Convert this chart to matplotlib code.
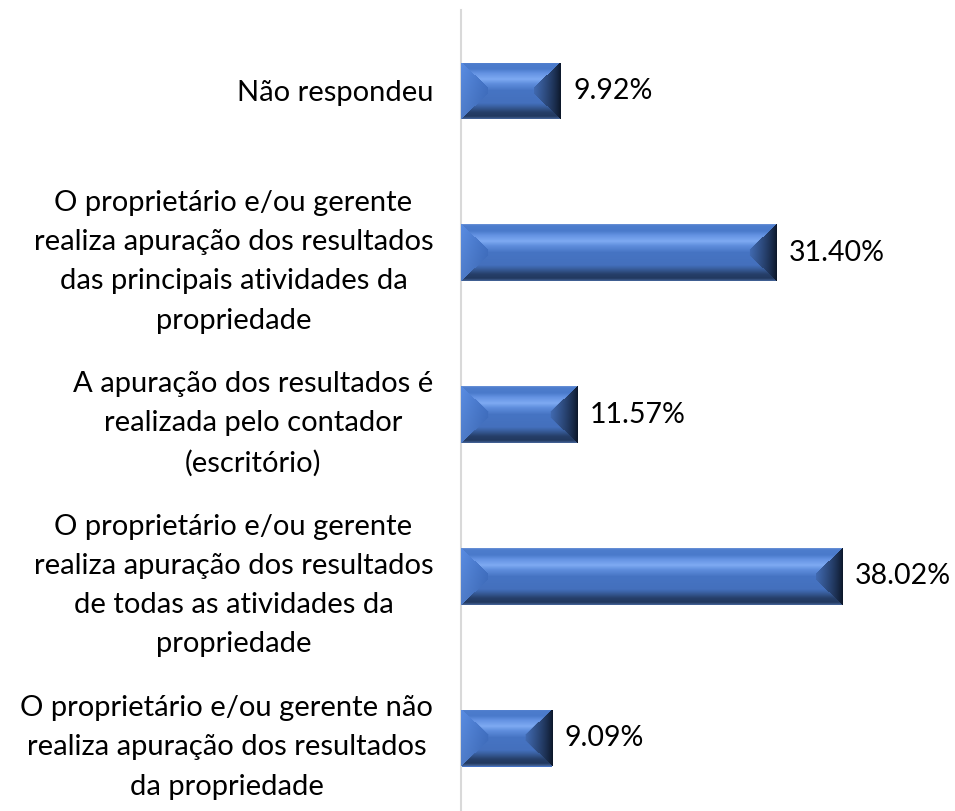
import numpy as np
import matplotlib
matplotlib.use("Agg")
import matplotlib.pyplot as plt
from matplotlib.colors import to_rgb

plt.rcParams['font.family'] = ['Lato', 'DejaVu Sans']

# categories listed top to bottom
categories = [
    "Não respondeu",
    "O proprietário e/ou gerente\nrealiza apuração dos resultados\ndas principais atividades da\npropriedade",
    "A apuração dos resultados é\nrealizada pelo contador\n(escritório)",
    "O proprietário e/ou gerente\nrealiza apuração dos resultados\nde todas as atividades da\npropriedade",
    "O proprietário e/ou gerente não\nrealiza apuração dos resultados\nda propriedade",
]
values = [9.92, 31.40, 11.57, 38.02, 9.09]

W_PX, H_PX = 955, 811
XMAX = 49.2
YLIM = (4.45, -0.5)
BAR_H = 0.35
FS = 21

# vertical shading of the bar face, top (0) to bottom (1)
profile = [
    (0.00, "#6e95d8"), (0.03, "#4d7dcd"), (0.12, "#4a7acb"), (0.20, "#6593e3"),
    (0.30, "#7eaaf2"), (0.38, "#5f8edd"), (0.50, "#4674c3"), (0.72, "#4470bd"),
    (0.78, "#3a60a0"), (0.88, "#263f69"), (0.95, "#22395f"), (1.00, "#47679c"),
]


def mix(c1, c2, s):
    a, b = np.array(to_rgb(c1)), np.array(to_rgb(c2))
    return a + (b - a) * s[..., None]


def bevel_rgb(w, h, dx=27, dy=25):
    X, Y = np.meshgrid(np.arange(w) + 0.5, np.arange(h) + 0.5)
    t = Y / h
    stops = np.array([p[0] for p in profile])
    cols = np.array([to_rgb(p[1]) for p in profile])
    img = np.stack([np.interp(t, stops, cols[:, k]) for k in range(3)], axis=-1)

    dl, dr = X / dx, (w - X) / dx
    dt, db = Y / dy, (h - Y) / dy
    left = (dl < 1) & (dl < dt) & (dl < db)
    right = (dr < 1) & (dr < dt) & (dr < db)
    shade = 1 + 0.12 * (0.5 - t)[..., None]

    lc = mix("#5585d6", "#3f6dbd", np.clip(dl, 0, 1)) * shade
    rc = mix("#0b1526", "#416ab1", np.clip(dr, 0, 1) ** 0.8) * shade
    img[left] = lc[left]
    img[right] = rc[right]
    return np.clip(img, 0, 1)


fig = plt.figure(figsize=(W_PX / 100, H_PX / 100), dpi=100)
ax = fig.add_axes([461 / W_PX, 0, 1 - 461 / W_PX, 1 - 10 / H_PX])

ypos = np.arange(len(values))
bars = ax.barh(ypos, values, height=BAR_H, color="#4472c4", edgecolor="none")

# pixels per data unit, used to size the shading images
ax_w = (1 - 461 / W_PX) * W_PX
ax_h = (1 - 10 / H_PX) * H_PX
px_x = ax_w / XMAX
px_y = ax_h / abs(YLIM[0] - YLIM[1])

for bar, y, v in zip(bars, ypos, values):
    w = int(round(v * px_x))
    h = int(round(BAR_H * px_y))
    im = ax.imshow(bevel_rgb(w, h), extent=[0, v, y + BAR_H / 2, y - BAR_H / 2],
                   aspect="auto", interpolation="bilinear", zorder=3)
    im.set_clip_path(bar)
    ax.annotate(f"{v:.2f}%", xy=(v, y), xytext=(9, 0), textcoords="offset points",
                va="center", ha="left", fontsize=FS - 0.5, color="black")

ax.set_xlim(0, XMAX)
ax.set_ylim(*YLIM)
ax.set_yticks(ypos)
ax.set_yticklabels(categories, fontsize=FS, multialignment="center", linespacing=1.63)
ax.tick_params(axis="y", length=0, pad=20)
ax.set_xticks([])
for s in ["top", "right", "bottom"]:
    ax.spines[s].set_visible(False)
ax.spines["left"].set_color("#d9d9d9")
ax.spines["left"].set_linewidth(1.5)

fig.savefig("out.png", dpi=100)
